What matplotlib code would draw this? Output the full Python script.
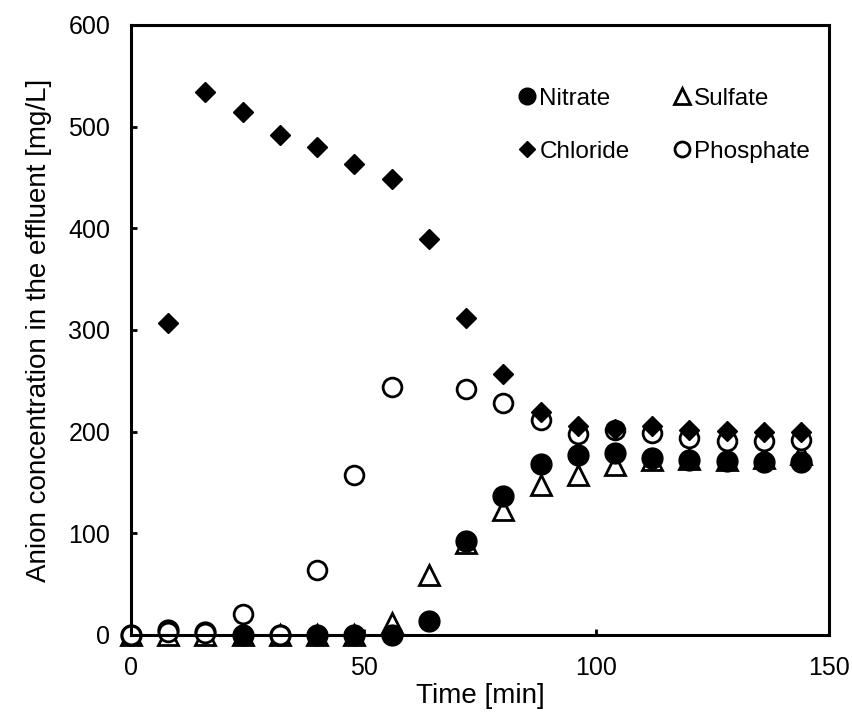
import numpy as np
import matplotlib
matplotlib.use('Agg')
import matplotlib.pyplot as plt

# 数据
time_min = [0, 8, 16, 24, 32, 40, 48, 56, 64, 72, 80, 88, 96, 104, 112, 120, 128, 136, 144]
nitrate = [0, 5, 3, 0, 0, 0, 0, 0, 14, 92, 137, 168, 177, 179, 174, 172, 171, 170, 170]
sulfate = [0, 0, 0, 0, 0, 0, 0, 12, 59, 90, 123, 148, 157, 167, 172, 173, 172, 174, 178]
chloride = [np.nan, 307, 534, 514, 492, 480, 463, 448, 389, 312, 257, 219, 206, 203, 206, 202, 201, 200, 200]
phosphate = [0, 3, 2, 21, 0, 64, 157, 244, np.nan, 242, 228, 211, 198, 202, 199, 194, 191, 191, 192]

plt.rcParams['font.family'] = ['Liberation Sans', 'DejaVu Sans']
plt.rcParams['font.size'] = 18

fig = plt.figure(figsize=(8.53, 7.13), dpi=100)
ax = fig.add_axes([0.1536, 0.1094, 0.8184, 0.8556])

lw = 2.0
h_sul, = ax.plot(time_min, sulfate, linestyle='none', marker='^', ms=14,
                 mfc='white', mec='black', mew=lw, label='Sulfate', clip_on=False)
h_nit, = ax.plot(time_min, nitrate, linestyle='none', marker='o', ms=15,
                 mfc='black', mec='black', label='Nitrate', clip_on=False)
h_pho, = ax.plot(time_min, phosphate, linestyle='none', marker='o', ms=13.5,
                 mfc='white', mec='black', mew=lw, label='Phosphate', clip_on=False)
h_chl, = ax.plot(time_min, chloride, linestyle='none', marker='D', ms=10.5,
                 mfc='black', mec='black', label='Chloride', clip_on=False)

ax.set_xlim(0, 150)
ax.set_ylim(0, 600)
ax.set_xticks([0, 50, 100, 150])
ax.set_yticks(np.arange(0, 601, 100))
ax.tick_params(direction='in', length=4, width=2, pad=15, labelsize=18)
for s in ax.spines.values():
    s.set_linewidth(2.2)

ax.set_xlabel('Time [min]', fontsize=20, labelpad=2)
ax.set_ylabel('Anion concentration in the effluent [mg/L]', fontsize=20, labelpad=12)

ax.legend(handles=[h_nit, h_chl, h_sul, h_pho], ncol=2, frameon=False,
          loc='upper right', bbox_to_anchor=(1.004, 0.933), markerscale=0.8,
          handlelength=0.6, handletextpad=0.2, columnspacing=1.85,
          labelspacing=1.28, fontsize=17.5)

fig.savefig('out.png', dpi=100)
